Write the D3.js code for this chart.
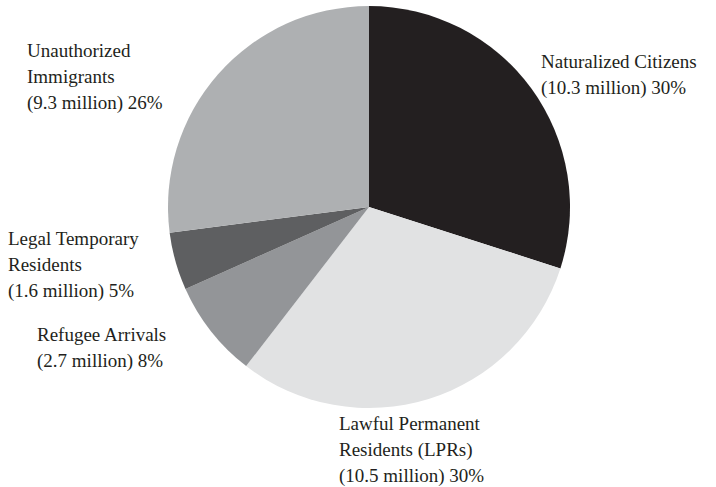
<!DOCTYPE html>
<html>
<head>
<meta charset="utf-8">
<script src="https://cdn.jsdelivr.net/npm/d3@7"></script>
<style>
  html, body { margin: 0; padding: 0; background: #fff; }
  svg { display: block; }
  text { font-family: "Liberation Serif", "Times New Roman", serif; fill: #231f20; }
</style>
</head>
<body>
<svg id="chart" width="716" height="487"></svg>
<script>
// Immigrant population by legal status (millions)
const categories = [
  "Naturalized Citizens",
  "Lawful Permanent Residents (LPRs)",
  "Refugee Arrivals",
  "Legal Temporary Residents",
  "Unauthorized Immigrants"
];
const values = [10.3, 10.5, 2.7, 1.6, 9.3];
const percentLabels = ["30%", "30%", "8%", "5%", "26%"];
const colors = ["#231f20", "#e1e2e3", "#939598", "#5e5f61", "#aeb0b2"];

// Label text broken into lines, with anchor positions for each label block
const labelLines = [
  ["Naturalized Citizens", "(10.3 million) 30%"],
  ["Lawful Permanent", "Residents (LPRs)", "(10.5 million) 30%"],
  ["Refugee Arrivals", "(2.7 million) 8%"],
  ["Legal Temporary", "Residents", "(1.6 million) 5%"],
  ["Unauthorized", "Immigrants", "(9.3 million) 26%"]
];
const labelPos = [
  [541, 68],
  [339, 430],
  [37, 341],
  [8, 245],
  [27, 57]
];

const svg = d3.select("#chart");
const cx = 369, cy = 207, radius = 201;

const data = categories.map((c, i) => ({ name: c, value: values[i], color: colors[i] }));

const pie = d3.pie().value(d => d.value).sort(null);
const arc = d3.arc().innerRadius(0).outerRadius(radius);

const g = svg.append("g").attr("transform", `translate(${cx},${cy})`);
g.selectAll("path")
  .data(pie(data))
  .join("path")
  .attr("d", arc)
  .attr("fill", d => d.data.color);

const lineH = 26;
const labels = svg.selectAll("text.lbl")
  .data(labelLines)
  .join("text")
  .attr("class", "lbl")
  .attr("font-size", 19)
  .attr("x", (d, i) => labelPos[i][0])
  .attr("y", (d, i) => labelPos[i][1]);

labels.each(function(lines, i) {
  d3.select(this).selectAll("tspan")
    .data(lines)
    .join("tspan")
    .attr("x", labelPos[i][0])
    .attr("dy", (d, j) => j === 0 ? 0 : lineH)
    .text(d => d);
});
</script>
</body>
</html>
